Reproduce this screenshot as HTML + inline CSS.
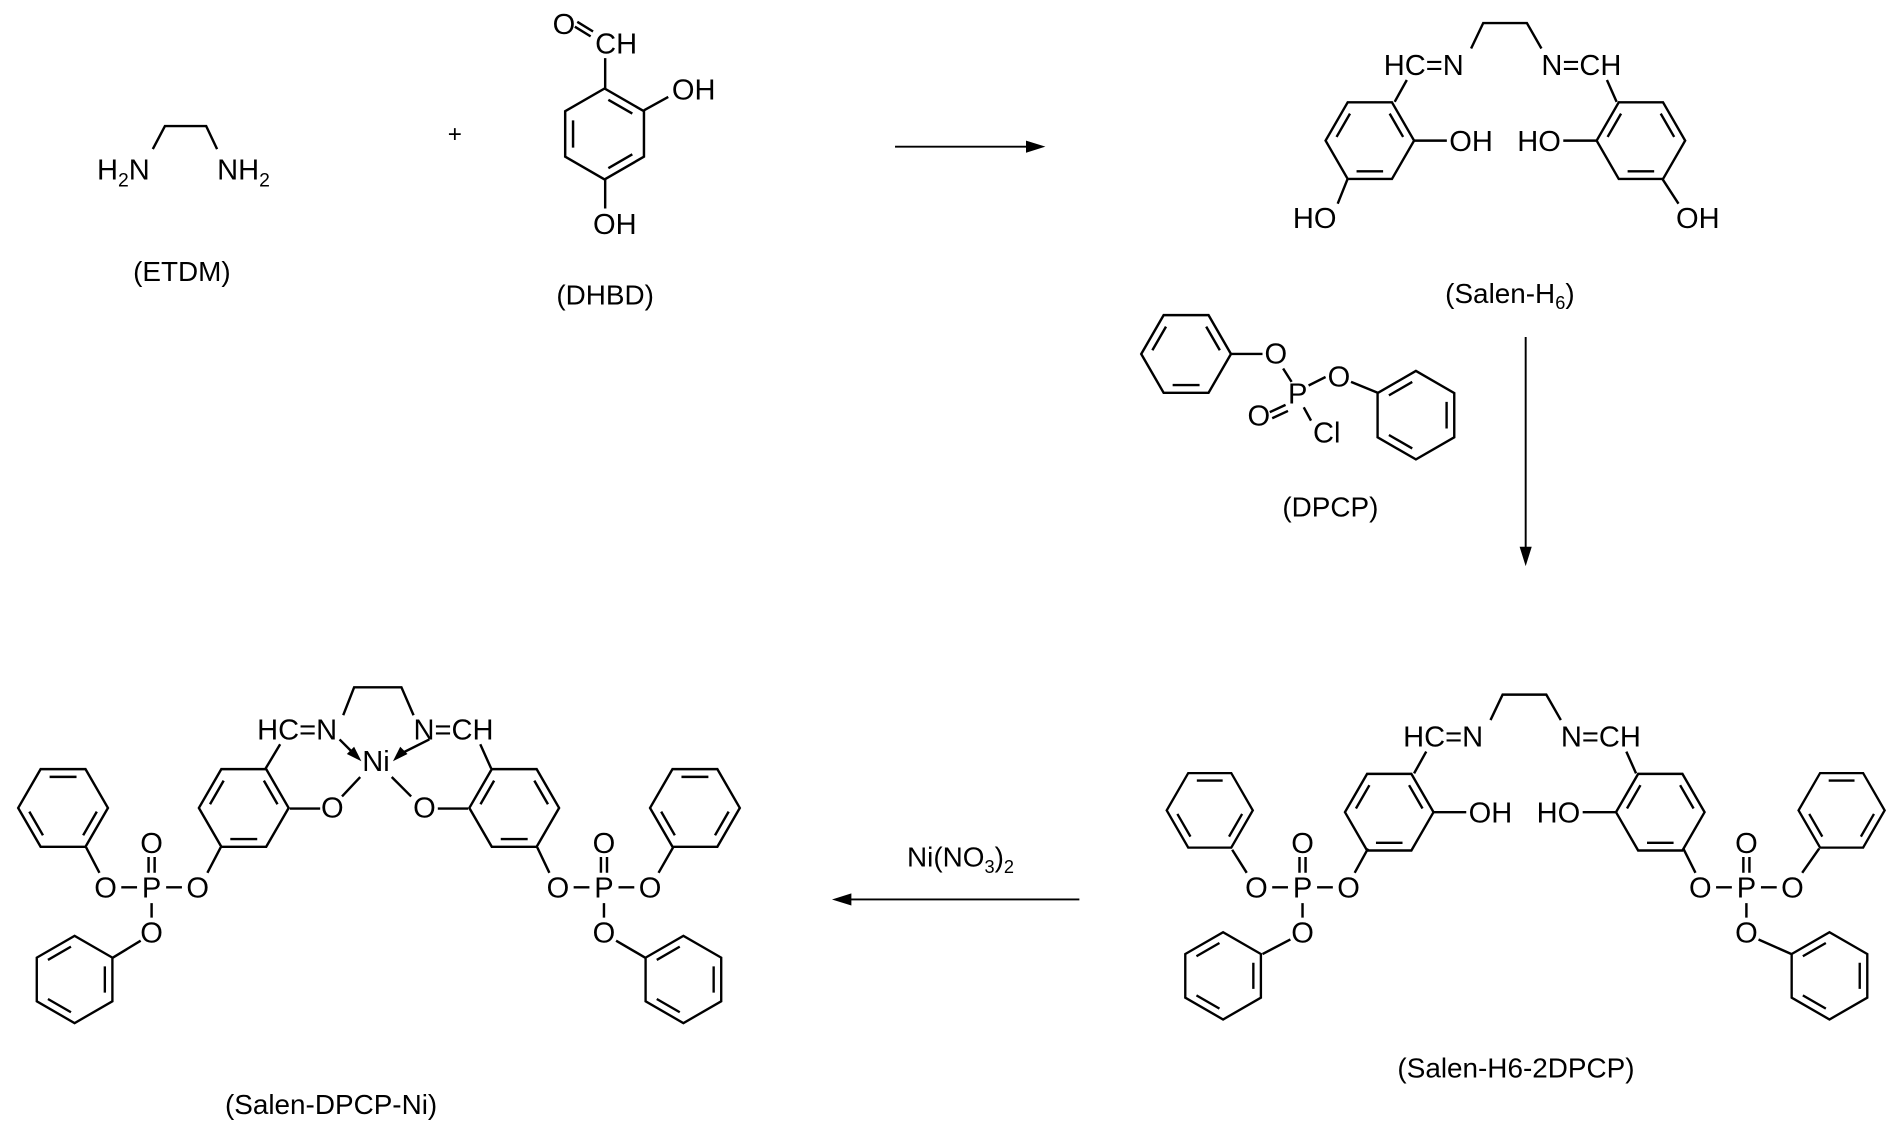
<!DOCTYPE html>
<html><head><meta charset="utf-8"><style>
html,body{margin:0;padding:0;background:#fff;}
svg{display:block;}
text{font-family:"Liberation Sans",Arial,sans-serif;font-size:24px;fill:#000;}
.c{text-anchor:middle;}
.lb{font-size:23px;text-anchor:middle;}
</style></head><body>
<svg width="1898" height="1131" viewBox="0 0 1565 933" preserveAspectRatio="none" xmlns="http://www.w3.org/2000/svg">
<defs>
<g id="h1" fill="none" stroke="#000" stroke-width="0.054">
<path d="M-0.5,-0.866 L0.5,-0.866 L1,0 L0.5,0.866 L-0.5,0.866 L-1,0Z"/>
<path d="M-0.3,-0.693 L0.3,-0.693 M0.752,0.083 L0.448,0.61 M-0.448,0.61 L-0.752,0.083"/>
</g>
<g id="h2" fill="none" stroke="#000" stroke-width="0.054">
<path d="M-0.5,-0.866 L0.5,-0.866 L1,0 L0.5,0.866 L-0.5,0.866 L-1,0Z"/>
<path d="M0.448,-0.61 L0.752,-0.083 M0.3,0.693 L-0.3,0.693 M-0.752,-0.083 L-0.448,-0.61"/>
</g>
<g id="phos">
<text class="c" x="0" y="8.5">P</text>
<text class="c" x="-38" y="8.5">O</text>
<text class="c" x="38" y="8.5">O</text>
<text class="c" x="0" y="-28.5">O</text>
<text class="c" x="0" y="45.5">O</text>
<path d="M-12,0 L-25,0 M12,0 L25,0 M0,13 L0,25 M-2.5,-12 L-2.5,-25 M2.5,-12 L2.5,-25" stroke="#000" stroke-width="2" fill="none"/>
</g>
<g id="core">
<text x="1141" y="62">HC=N</text>
<text x="1271" y="62">N=CH</text>
<g stroke="#000" stroke-width="2" fill="none">
<polyline points="1213,40 1223,19 1259,19 1271,40"/>
<path d="M1150,84 L1160,66 M1325,66 L1333,84 M1166,116 L1193,116 M1289,116 L1316,116"/>
</g>
<use href="#h2" transform="translate(1129.5,116) scale(36.5)"/>
<use href="#h2" transform="translate(1353,116) scale(36.5)"/>
<text class="c" x="1213" y="124.5">OH</text>
<text class="c" x="1269" y="124.5">HO</text>
</g>
</defs>

<!-- ETDM -->
<text x="80" y="148">H<tspan font-size="16" dy="6">2</tspan><tspan dy="-6">N</tspan></text>
<text x="179" y="148">NH<tspan font-size="16" dy="6">2</tspan></text>
<polyline points="126,123 136,104 170,104 179,123" stroke="#000" stroke-width="2" fill="none"/>
<text class="lb" x="150" y="232">(ETDM)</text>
<text class="c" x="375" y="117" style="font-size:20px">+</text>

<!-- DHBD -->
<use href="#h2" transform="translate(498.5,110.5) scale(37.5) rotate(90)"/>
<text class="c" x="465" y="28">O</text>
<text class="c" x="508" y="44">CH</text>
<text class="c" x="572" y="82">OH</text>
<text class="c" x="507" y="193">OH</text>
<g stroke="#000" stroke-width="2" fill="none">
<path d="M474,22 L487,30 M476,18 L489,26 M499,48 L499,73 M531,91 L551,80 M499,148 L499,172"/>
</g>
<text class="lb" x="499" y="251">(DHBD)</text>

<!-- arrow 1 -->
<line x1="738" y1="121" x2="850" y2="121" stroke="#000" stroke-width="1.6"/>
<polygon points="862,121 846,116 846,126" fill="#000"/>

<!-- Salen-H6 -->
<use href="#core"/>
<g stroke="#000" stroke-width="2" fill="none">
<path d="M1111,148 L1103,168 M1371,148 L1384,168"/>
</g>
<text class="c" x="1084" y="188">HO</text>
<text class="c" x="1400" y="188">OH</text>
<text class="lb" x="1245" y="250">(Salen-H<tspan font-size="15" dy="5">6</tspan><tspan dy="-5">)</tspan></text>

<!-- DPCP -->
<use href="#h2" transform="translate(978,292) scale(37)"/>
<use href="#h1" transform="translate(1167.5,342.5) scale(36.5) rotate(90)"/>
<text class="c" x="1052" y="300">O</text>
<text class="c" x="1070" y="333">P</text>
<text class="c" x="1104" y="319">O</text>
<text class="c" x="1038" y="351">O</text>
<text class="c" x="1094" y="365">Cl</text>
<g stroke="#000" stroke-width="2" fill="none">
<path d="M1015,292 L1041,292 M1058,304 L1065,315 M1079,318 L1093,311 M1114,315 L1136,324 M1047,340 L1060,334 M1049,345 L1062,339 M1075,336 L1081,347"/>
</g>
<text class="lb" x="1097" y="426">(DPCP)</text>

<!-- arrow 2 -->
<line x1="1258" y1="278" x2="1258" y2="455" stroke="#000" stroke-width="1.6"/>
<polygon points="1258,467 1253,451 1263,451" fill="#000"/>

<!-- Salen-H6-2DPCP -->
<use href="#core" transform="translate(16,554)"/>
<use href="#phos" transform="translate(1074,732)"/>
<use href="#phos" transform="translate(1440,732)"/>
<use href="#h1" transform="translate(997.5,668.5) scale(35.5)"/>
<use href="#h1" transform="translate(1518.5,668.5) scale(35.5)"/>
<use href="#h1" transform="translate(1008.5,805) scale(36) rotate(90)"/>
<use href="#h1" transform="translate(1508.5,805) scale(36) rotate(90)"/>
<g stroke="#000" stroke-width="2" fill="none">
<path d="M1128,700 L1117,720 M1016,701 L1028,720 M1064,775 L1041,787 M1388,700 L1398,720 M1486,720 L1500,700 M1450,775 L1477,787"/>
</g>
<text class="lb" x="1250" y="889">(Salen-H6-2DPCP)</text>

<!-- arrow 3 -->
<text class="lb" x="792" y="715">Ni(NO<tspan font-size="15" dy="5">3</tspan><tspan dy="-5">)</tspan><tspan font-size="15" dy="5">2</tspan></text>
<line x1="890" y1="742" x2="698" y2="742" stroke="#000" stroke-width="1.6"/>
<polygon points="686,742 702,737 702,747" fill="#000"/>

<!-- Salen-DPCP-Ni -->
<text x="212" y="610">HC=N</text>
<text x="341" y="610">N=CH</text>
<text class="c" x="310" y="636">Ni</text>
<text class="c" x="274" y="674.5">O</text>
<text class="c" x="350" y="674.5">O</text>
<use href="#h2" transform="translate(201,666.5) scale(37)"/>
<use href="#h2" transform="translate(424,666.5) scale(37)"/>
<use href="#phos" transform="translate(125,732)"/>
<use href="#phos" transform="translate(498,732)"/>
<use href="#h1" transform="translate(52,666.5) scale(37)"/>
<use href="#h1" transform="translate(573,666.5) scale(37)"/>
<use href="#h1" transform="translate(61.5,808) scale(36) rotate(90)"/>
<use href="#h1" transform="translate(563.5,808) scale(36) rotate(90)"/>
<g stroke="#000" stroke-width="2" fill="none">
<polyline points="283,590 292,567 331,567 341,590"/>
<path d="M297,641 L282,657 M323,641 L339,657 M239,667 L264,667 M361,667 L386,667 M219,634 L231,614 M405,634 L396,614 M182,699 L171,720 M71,699 L82,720 M116,776 L93,790 M443,699 L453,720 M543,720 L555,699 M508,776 L532,790 M280,610 L292,622 M354,610 L330,622"/>
</g>
<polygon points="298,628 286,622 292,616" fill="#000"/>
<polygon points="324,628 330,616 336,622" fill="#000"/>
<text class="lb" x="273" y="919">(Salen-DPCP-Ni)</text>
</svg>
</body></html>
